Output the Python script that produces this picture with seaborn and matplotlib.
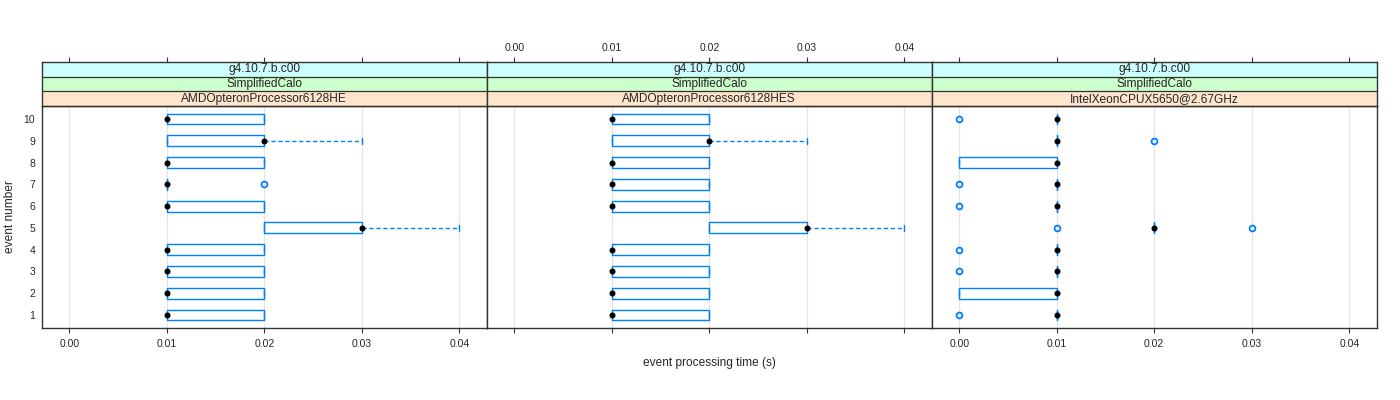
import numpy as np
import pandas as pd
import matplotlib
matplotlib.use("Agg")
import matplotlib.pyplot as plt
import seaborn as sns

# ---------------- data ----------------
events = [1, 2, 3, 4, 5, 6, 7, 8, 9, 10]
panels = ["AMDOpteronProcessor6128HE", "AMDOpteronProcessor6128HES",
          "IntelXeonCPUX5650@2.67GHz"]
strip_top = "g4.10.7.b.c00"
strip_mid = "SimplifiedCalo"

# event processing time samples (s), one list per event 1..10
times_he = [
    [0.01, 0.01, 0.01, 0.02, 0.02],
    [0.01, 0.01, 0.01, 0.02, 0.02],
    [0.01, 0.01, 0.01, 0.02, 0.02],
    [0.01, 0.01, 0.01, 0.02, 0.02],
    [0.02, 0.02, 0.02, 0.03, 0.03, 0.03, 0.03, 0.03, 0.04],
    [0.01, 0.01, 0.01, 0.02, 0.02],
    [0.01, 0.01, 0.01, 0.01, 0.02],
    [0.01, 0.01, 0.01, 0.02, 0.02],
    [0.01, 0.01, 0.01, 0.02, 0.02, 0.02, 0.02, 0.02, 0.03],
    [0.01, 0.01, 0.01, 0.02, 0.02],
]
times_hes = [
    [0.01, 0.01, 0.01, 0.02, 0.02],
    [0.01, 0.01, 0.01, 0.02, 0.02],
    [0.01, 0.01, 0.01, 0.02, 0.02],
    [0.01, 0.01, 0.01, 0.02, 0.02],
    [0.02, 0.02, 0.02, 0.03, 0.03, 0.03, 0.03, 0.03, 0.04],
    [0.01, 0.01, 0.01, 0.02, 0.02],
    [0.01, 0.01, 0.01, 0.02, 0.02],
    [0.01, 0.01, 0.01, 0.02, 0.02],
    [0.01, 0.01, 0.01, 0.02, 0.02, 0.02, 0.02, 0.02, 0.03],
    [0.01, 0.01, 0.01, 0.02, 0.02],
]
times_intel = [
    [0.00, 0.01, 0.01, 0.01, 0.01],
    [0.00, 0.00, 0.01, 0.01, 0.01],
    [0.00, 0.01, 0.01, 0.01, 0.01],
    [0.00, 0.01, 0.01, 0.01, 0.01],
    [0.01, 0.02, 0.02, 0.02, 0.02, 0.02, 0.03],
    [0.00, 0.01, 0.01, 0.01, 0.01],
    [0.00, 0.01, 0.01, 0.01, 0.01],
    [0.00, 0.00, 0.01, 0.01, 0.01],
    [0.01, 0.01, 0.01, 0.01, 0.02],
    [0.00, 0.01, 0.01, 0.01, 0.01],
]
xticks = [0.00, 0.01, 0.02, 0.03, 0.04]
xticklabels = ["0.00", "0.01", "0.02", "0.03", "0.04"]

rows = []
for proc, tlist in zip(panels, [times_he, times_hes, times_intel]):
    for ev, samples in zip(events, tlist):
        for t in samples:
            rows.append({"proc": proc, "event": str(ev), "time": t})
df = pd.DataFrame(rows)

# ---------------- style ----------------
sns.set_style("white")
plt.rcParams["font.family"] = ["Liberation Sans", "DejaVu Sans"]

BLUE = "#0080ff"
FRAME = "#333333"
W, H = 1400, 400
fig = plt.figure(figsize=(14, 4), dpi=100)

xlim = (-0.0028, 0.0428)
order = [str(e) for e in events[::-1]]  # top = 10
lefts = [42, 487, 932]
pw = 444.5
plot_top, plot_bot = 106, 328
strip_top_px = 62
strip_cols = ["#ccffff", "#ccffcc", "#ffe5cc"]
TICK_FS = 7.5
TEXT_FS = 8.6

for i, proc in enumerate(panels):
    d = df[df["proc"] == proc]
    ax = fig.add_axes([lefts[i] / W, 1 - plot_bot / H, pw / W, (plot_bot - plot_top) / H])
    for xt in xticks:
        ax.axvline(xt, color="#e6e6e6", lw=0.9, zorder=0)
    sns.boxplot(data=d, x="time", y="event", order=order, orient="h",
                fill=False, color=BLUE, linecolor=BLUE, width=0.5, linewidth=1,
                whis=1.5, ax=ax,
                medianprops={"visible": False},
                whiskerprops={"linestyle": (0, (3, 2))},
                capprops={"linestyle": "-"},
                flierprops={"marker": "o", "markersize": 4.2,
                            "markerfacecolor": "none", "markeredgecolor": BLUE,
                            "markeredgewidth": 1.3})
    sns.pointplot(data=d, x="time", y="event", order=order, orient="h",
                  estimator="median", errorbar=None, linestyle="none",
                  color="black", marker="o", markersize=2.3, ax=ax, zorder=5)
    ax.set_xlim(*xlim)
    ax.set_ylim(9.6, -0.6)
    ax.set_xticks(xticks)
    ax.set_xlabel("")
    ax.set_ylabel("")
    ax.grid(False)
    for s in ax.spines.values():
        s.set_color(FRAME)
        s.set_linewidth(1)
    ax.tick_params(axis="x", which="both", bottom=True, top=False, length=3.6,
                   direction="out", width=0.8, color=FRAME, pad=4,
                   labelsize=TICK_FS)
    if i == 1:
        ax.set_xticklabels([])
    else:
        ax.set_xticklabels(xticklabels)
    if i == 0:
        ax.tick_params(axis="y", length=0, pad=5, labelsize=TICK_FS)
        ax.set_yticks(range(len(order)))
        ax.set_yticklabels(order)
    else:
        ax.tick_params(axis="y", length=0, labelleft=False)

    # strips
    sax = fig.add_axes([lefts[i] / W, 1 - plot_top / H, pw / W, (plot_top - strip_top_px) / H])
    sax.set_xlim(*xlim)
    sax.set_ylim(0, 3)
    for k, (col, txt) in enumerate(zip(strip_cols, [strip_top, strip_mid, proc])):
        y0 = 2 - k
        sax.axhspan(y0, y0 + 1, color=col, zorder=0)
        sax.axhline(y0, color=FRAME, lw=0.9)
        sax.text(0.02, y0 + 0.5, txt, ha="center", va="center", fontsize=TEXT_FS)
    for s in sax.spines.values():
        s.set_color(FRAME)
        s.set_linewidth(1)
    sax.set_yticks([])
    sax.set_xticks(xticks)
    sax.tick_params(axis="x", bottom=False, top=True, labelbottom=False,
                    labeltop=(i == 1), length=3.6, direction="out", width=0.8,
                    color=FRAME, pad=3, labelsize=TICK_FS)
    if i == 1:
        sax.set_xticklabels(xticklabels)

fig.text(709.5 / W, 1 - 363 / H, "event processing time (s)", ha="center",
         va="center", fontsize=TEXT_FS)
fig.text(10 / W, 1 - 217 / H, "event number", ha="center", va="center",
         rotation=90, fontsize=TEXT_FS)

fig.savefig("out.png", dpi=100)
